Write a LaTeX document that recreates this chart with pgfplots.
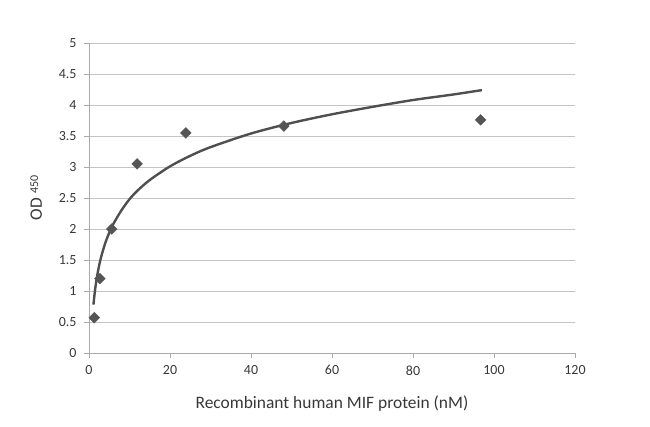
\documentclass[border=0pt]{standalone}
\usepackage{pgfplots}
\pgfplotsset{compat=1.18}
\usepackage{fontspec}
\setmainfont{Carlito}
\definecolor{gridc}{HTML}{C4C4C4}
\definecolor{axl}{HTML}{AAAAAA}
\definecolor{mk}{HTML}{555555}
\definecolor{ln}{HTML}{4F4F4F}
\definecolor{txt}{HTML}{383838}
\begin{document}
\begin{tikzpicture}
\begin{axis}[
  name=ax,
  scale only axis,
  width=486bp, height=310bp,
  xmin=0, xmax=120, ymin=0, ymax=5,
  xtick={0,20,...,120},
  ytick={0,0.5,...,5},
  yticklabels={0,0.5,1,1.5,2,2.5,3,3.5,4,4.5,5},
  axis x line*=bottom,
  axis y line*=left,
  axis line style={axl, line width=0.8bp, -},
  xmajorgrids=false,
  ymajorgrids=true,
  grid style={gridc, line width=0.8bp},
  tick align=outside,
  major tick length=5bp,
  tick style={axl, line width=0.8bp},
  x tick label style={font=\fontsize{14}{14}\selectfont, text=txt, yshift=-4bp},
  y tick label style={font=\fontsize{14}{14}\selectfont, text=txt, xshift=-4bp},
  /pgf/number format/assume math mode=true,
  xlabel={Recombinant human MIF protein (nM)},
  xlabel style={font=\fontsize{17.5}{17.5}\selectfont, text=txt, yshift=-14bp},
  ylabel={OD {\fontsize{12}{12}\selectfont\raisebox{0.32em}{450}}},
  ylabel style={font=\fontsize{17.5}{17.5}\selectfont, text=txt, yshift=10bp},
  clip=false,
]
\addplot[ln, line width=2.4bp, smooth] coordinates {
  (1.1,0.78) (1.5,1.02) (2,1.24) (2.5,1.41) (3,1.55) (4,1.77) (5,1.94)
  (6,2.08) (8,2.30) (10,2.48) (12,2.62) (15,2.79) (20,3.01) (25,3.18)
  (30,3.32) (40,3.54) (50,3.71) (60,3.85) (70,3.97) (80,4.08) (90,4.17)
  (97,4.24)
};
\addplot[only marks, mark=square*, mark size=3.8bp,
  mark options={rotate=45, fill=mk, draw=mk}] coordinates {
  (1.3,0.57) (2.7,1.20) (5.6,2.00) (11.9,3.05) (23.9,3.55) (48.1,3.66) (96.7,3.76)
};
\end{axis}
\pgfresetboundingbox
\path[use as bounding box] ([shift={(-89bp,-74bp)}]ax.south west) rectangle ([shift={(75bp,43bp)}]ax.north east);
\end{tikzpicture}
\end{document}
